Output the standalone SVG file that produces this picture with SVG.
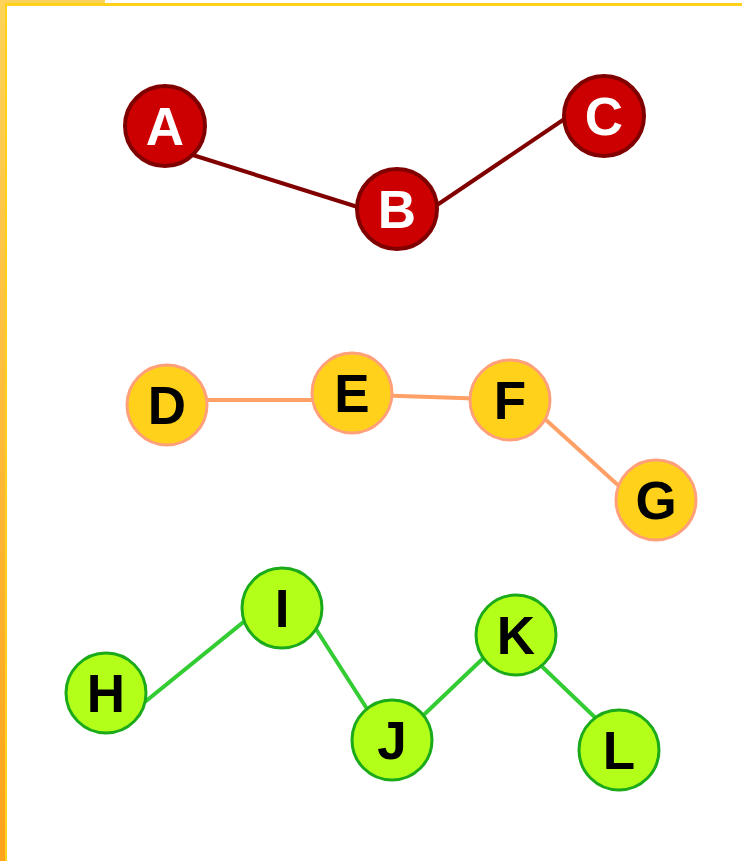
<svg xmlns="http://www.w3.org/2000/svg" width="742" height="861" viewBox="0 0 742 861">
  <defs>
    <linearGradient id="sideGrad" x1="0" y1="0" x2="0" y2="1">
      <stop offset="0" stop-color="#FFD35A"/>
      <stop offset="1" stop-color="#FFA31A"/>
    </linearGradient>
    <style>
      .edge-red { stroke: #800000; stroke-width: 4; fill: none; }
      .edge-orange { stroke: #FFA066; stroke-width: 4; fill: none; }
      .edge-green { stroke: #33CC33; stroke-width: 4; fill: none; }
      .n-red circle { fill: #CC0000; stroke: #800000; stroke-width: 4; }
      .n-yellow circle { fill: #FFD11A; stroke: #FFA07A; stroke-width: 3; }
      .n-green circle { fill: #B3FF1A; stroke: #1AAA1A; stroke-width: 3; }
      text { font-family: "Liberation Sans", Arial, sans-serif; font-weight: bold; font-size: 53px; text-anchor: middle; }
      .n-red text { fill: #FFFFFF; }
      .n-yellow text, .n-green text { fill: #000000; }
    </style>
  </defs>

  <rect x="0" y="0" width="742" height="861" fill="#FFFFFF"/>

  <!-- frame -->
  <rect x="0" y="0" width="105" height="4" fill="#FFD35A"/>
  <rect x="0" y="0" width="5" height="861" fill="url(#sideGrad)"/>
  <rect x="5" y="3" width="737" height="3" fill="#FFD11A"/>
  <rect x="5" y="3" width="2" height="858" fill="#FFD11A"/>

  <g id="connectors">
    <line class="edge-red" x1="180" y1="151" x2="380" y2="214"/>
    <line class="edge-red" x1="420" y1="216.5" x2="580" y2="108.5"/>
    <line class="edge-orange" x1="190" y1="400" x2="330" y2="400"/>
    <line class="edge-orange" x1="370" y1="395" x2="490" y2="399"/>
    <line class="edge-orange" x1="530" y1="405.6" x2="640" y2="505"/>
    <line class="edge-green" x1="130" y1="714" x2="262" y2="607"/>
    <line class="edge-green" x1="305" y1="612" x2="378" y2="726"/>
    <line class="edge-green" x1="410" y1="728" x2="495" y2="647"/>
    <line class="edge-green" x1="530" y1="655" x2="605" y2="727"/>
  </g>

  <g id="node-A" class="n-red"><circle cx="165" cy="126" r="40"/><text x="165" y="145">A</text></g>
  <g id="node-B" class="n-red"><circle cx="397" cy="209" r="40"/><text x="397" y="228">B</text></g>
  <g id="node-C" class="n-red"><circle cx="604" cy="116" r="40"/><text x="604" y="135">C</text></g>

  <g id="node-D" class="n-yellow"><circle cx="167" cy="405" r="40"/><text x="167" y="424">D</text></g>
  <g id="node-E" class="n-yellow"><circle cx="352" cy="393" r="40"/><text x="352" y="412">E</text></g>
  <g id="node-F" class="n-yellow"><circle cx="510" cy="400" r="40"/><text x="510" y="419">F</text></g>
  <g id="node-G" class="n-yellow"><circle cx="656" cy="500" r="40"/><text x="656" y="519">G</text></g>

  <g id="node-H" class="n-green"><circle cx="106" cy="693" r="40"/><text x="106" y="712">H</text></g>
  <g id="node-I" class="n-green"><circle cx="282" cy="608" r="40"/><text x="282" y="627">I</text></g>
  <g id="node-J" class="n-green"><circle cx="392" cy="740" r="40"/><text x="392" y="759">J</text></g>
  <g id="node-K" class="n-green"><circle cx="516" cy="635" r="40"/><text x="516" y="654">K</text></g>
  <g id="node-L" class="n-green"><circle cx="619" cy="750" r="40"/><text x="619" y="769">L</text></g>
</svg>
